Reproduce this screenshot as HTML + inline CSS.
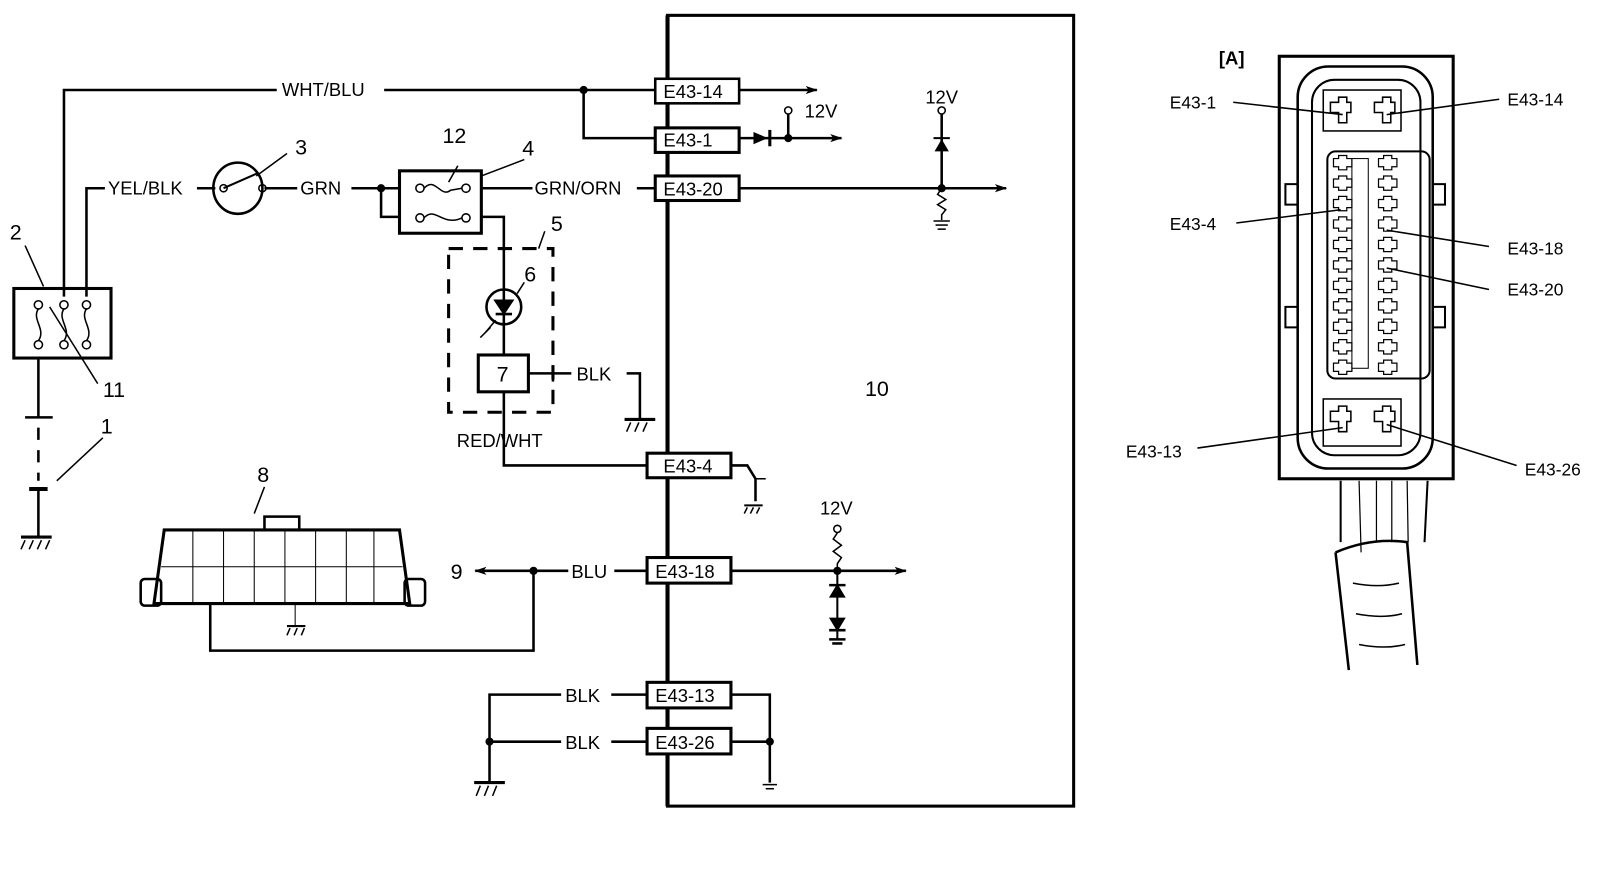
<!DOCTYPE html>
<html><head><meta charset="utf-8"><style>
html,body{margin:0;padding:0;background:#fff;}
svg{display:block;}
text{font-family:"Liberation Sans",sans-serif;fill:#000;}
</style></head><body>
<svg width="1600" height="890" viewBox="0 0 1563 870" xmlns="http://www.w3.org/2000/svg">
<defs>
<marker id="ar" markerWidth="12" markerHeight="8" refX="11" refY="4" orient="auto" markerUnits="userSpaceOnUse"><path d="M0,0 L12,4 L0,8 L3,4Z" fill="#000"/></marker>
</defs>
<g stroke="#000" stroke-width="2.5" fill="none">
<!-- ECU box -->
<rect x="652" y="15" width="397" height="773" stroke-width="3"/>
<line x1="652" y1="15" x2="652" y2="788" stroke-width="4"/>

<!-- WHT/BLU -->
<polyline points="62,290 62,88 270,88"/>
<line x1="375" y1="88" x2="640" y2="88"/>
<polyline points="570,88 570,135 640,135"/>
<!-- connector boxes -->
<rect x="640" y="77" width="82" height="24" fill="#fff"/>
<rect x="640" y="125" width="82" height="24" fill="#fff" stroke-width="3"/>
<rect x="640" y="172" width="82" height="24" fill="#fff" stroke-width="3"/>
<line x1="722" y1="88" x2="798" y2="88" marker-end="url(#ar)"/>
<line x1="722" y1="135" x2="822" y2="135" marker-end="url(#ar)"/>
<line x1="752" y1="127" x2="752" y2="143" stroke-width="3"/>
<line x1="770" y1="135" x2="770" y2="111"/>
<circle cx="770" cy="108" r="3.5" stroke-width="1.5"/>
<line x1="722" y1="184" x2="983" y2="184" marker-end="url(#ar)"/>
<line x1="920" y1="111" x2="920" y2="184"/>
<circle cx="920" cy="108" r="3.5" stroke-width="1.5"/>
<polyline points="920,184 916,190 924,195 916,200 924,205 920,210 920,215" stroke-width="1.5"/>
<line x1="912" y1="216" x2="928" y2="216" stroke-width="1.5"/>
<line x1="914" y1="220" x2="926" y2="220" stroke-width="1.5"/>
<line x1="916" y1="224" x2="924" y2="224" stroke-width="1.5"/>

<!-- YEL/BLK -->
<polyline points="84,290 84,184 102,184"/>
<line x1="192" y1="184" x2="210" y2="184"/>
<ellipse cx="232" cy="184" rx="24" ry="25"/>
<circle cx="218" cy="184" r="3.5" stroke-width="1.5"/>
<circle cx="256" cy="184" r="3.5" stroke-width="1.5"/>
<line x1="218" y1="184" x2="252" y2="169" stroke-width="2"/>
<line x1="250" y1="172" x2="280" y2="150" stroke-width="1.5"/>
<line x1="258" y1="184" x2="290" y2="184"/>
<line x1="343" y1="184" x2="390" y2="184"/>
<polyline points="372,184 372,212 390,212"/>
<rect x="390" y="167" width="80" height="61" stroke-width="3"/>
<circle cx="410" cy="184" r="4" stroke-width="1.5"/><circle cx="455" cy="184" r="4" stroke-width="1.5"/>
<path d="M414,184 C425,172 430,194 440,186 L451,184" stroke-width="1.5"/>
<circle cx="410" cy="213" r="4" stroke-width="1.5"/><circle cx="455" cy="213" r="4" stroke-width="1.5"/>
<path d="M414,213 C425,201 432,222 451,213" stroke-width="1.5"/>
<line x1="447" y1="162" x2="438" y2="178" stroke-width="1.5"/>
<line x1="512" y1="156" x2="470" y2="172" stroke-width="1.5"/>
<line x1="470" y1="184" x2="520" y2="184"/>
<line x1="622" y1="184" x2="640" y2="184"/>
<polyline points="470,212 492,212 492,347"/>
<!-- dashed box 5 -->
<rect x="438" y="243" width="102" height="160" stroke-dasharray="14,10" stroke-width="3"/>
<line x1="532" y1="226" x2="526" y2="243" stroke-width="1.5"/>
<circle cx="492" cy="300" r="17"/>
<path d="M484,294 L500,294 L492,306Z" fill="#000"/>
<line x1="484" y1="307" x2="500" y2="307"/>
<line x1="484" y1="313" x2="474" y2="325" stroke-width="1.5"/>
<line x1="479" y1="320" x2="469" y2="330" stroke-width="1.5"/>
<line x1="505" y1="287" x2="512" y2="276" stroke-width="1.5"/>
<rect x="467" y="347" width="49" height="36" stroke-width="3"/>
<line x1="516" y1="365" x2="558" y2="365"/>
<line x1="540" y1="357" x2="540" y2="373"/>
<polyline points="612,365 625,365 625,410"/>
<line x1="610" y1="410" x2="640" y2="410" stroke-width="3"/>
<polyline points="492,383 492,455 632,455"/>
<rect x="632" y="443" width="82" height="24" stroke-width="3" fill="#fff"/>
<polyline points="714,455 730,455 738,468 738,490"/>
<line x1="738" y1="468" x2="748" y2="468" stroke-width="1.5"/>
<line x1="727" y1="494" x2="745" y2="494" stroke-width="2"/>

<!-- box 2 -->
<rect x="13" y="282" width="95" height="68" stroke-width="3"/>
<circle cx="37" cy="298" r="4" stroke-width="1.5"/><circle cx="37" cy="337" r="4" stroke-width="1.5"/>
<path d="M37,302 C30,312 45,322 37,333" stroke-width="1.5"/>
<circle cx="62" cy="298" r="4" stroke-width="1.5"/><circle cx="62" cy="337" r="4" stroke-width="1.5"/>
<path d="M62,302 C55,312 70,322 62,333" stroke-width="1.5"/>
<circle cx="84" cy="298" r="4" stroke-width="1.5"/><circle cx="84" cy="337" r="4" stroke-width="1.5"/>
<path d="M84,302 C77,312 92,322 84,333" stroke-width="1.5"/>
<line x1="48" y1="300" x2="95" y2="375" stroke-width="1.5"/>
<line x1="24" y1="240" x2="42" y2="280" stroke-width="1.5"/>
<!-- battery -->
<line x1="37" y1="350" x2="37" y2="408"/>
<line x1="24" y1="408" x2="51" y2="408"/>
<line x1="37" y1="418" x2="37" y2="470" stroke-dasharray="12,10"/>
<line x1="28" y1="478" x2="46" y2="478" stroke-width="4"/>
<line x1="37" y1="478" x2="37" y2="525"/>
<line x1="20" y1="525" x2="50" y2="525" stroke-width="3"/>
<line x1="100" y1="428" x2="55" y2="470" stroke-width="1.5"/>

<!-- unit 8 -->
<path d="M160,518 L390,518 L400,590 L150,590 Z" stroke-width="3"/>
<rect x="258" y="505" width="34" height="13"/>
<g stroke-width="1">
<line x1="188" y1="518" x2="188" y2="590"/><line x1="218" y1="518" x2="218" y2="590"/>
<line x1="248" y1="518" x2="248" y2="590"/><line x1="278" y1="518" x2="278" y2="590"/>
<line x1="308" y1="518" x2="308" y2="590"/><line x1="338" y1="518" x2="338" y2="590"/>
<line x1="365" y1="518" x2="365" y2="590"/><line x1="157" y1="554" x2="393" y2="554"/>
</g>
<rect x="137" y="566" width="20" height="26" rx="4"/>
<rect x="395" y="566" width="20" height="26" rx="4"/>
<line x1="248" y1="502" x2="258" y2="476" stroke-width="1.5"/>
<line x1="288" y1="590" x2="288" y2="612" stroke-width="1"/>
<line x1="280" y1="612" x2="298" y2="612" stroke-width="2"/>
<polyline points="205,590 205,636 521,636 521,558"/>
<line x1="555" y1="558" x2="464" y2="558" marker-end="url(#ar)"/>
<line x1="600" y1="558" x2="632" y2="558"/>
<rect x="632" y="545" width="82" height="25" stroke-width="3" fill="#fff"/>
<line x1="714" y1="558" x2="885" y2="558" marker-end="url(#ar)"/>
<circle cx="818" cy="517" r="3.5" stroke-width="1.5"/>
<polyline points="818,521 814,527 822,533 814,539 822,545 818,551 818,558" stroke-width="1.5"/>
<line x1="818" y1="558" x2="818" y2="625" stroke-width="2"/>
<path d="M812,583 L824,583 L818,573Z" fill="#000"/>
<line x1="810" y1="572" x2="826" y2="572"/>
<path d="M812,605 L824,605 L818,615Z" fill="#000"/>
<line x1="810" y1="616" x2="826" y2="616"/>
<line x1="810" y1="625" x2="826" y2="625"/><line x1="813" y1="629" x2="823" y2="629"/>

<!-- E43-13/26 -->
<polyline points="478,765 478,679 548,679"/>
<line x1="597" y1="679" x2="632" y2="679"/>
<line x1="478" y1="725" x2="548" y2="725"/>
<line x1="597" y1="725" x2="632" y2="725"/>
<rect x="632" y="667" width="82" height="25" stroke-width="3" fill="#fff"/>
<rect x="632" y="712" width="82" height="25" stroke-width="3" fill="#fff"/>
<polyline points="714,679 752,679 752,765"/>
<line x1="714" y1="725" x2="752" y2="725"/>
<line x1="463" y1="765" x2="493" y2="765" stroke-width="3"/>
<line x1="745" y1="767" x2="759" y2="767" stroke-width="1.5"/>
<line x1="748" y1="771" x2="756" y2="771" stroke-width="1.5"/>
</g>
<!-- dots -->
<g fill="#000">
<circle cx="570" cy="88" r="4"/><circle cx="372" cy="184" r="4"/><circle cx="770" cy="135" r="4"/>
<circle cx="920" cy="184" r="4"/><circle cx="521" cy="558" r="4"/><circle cx="818" cy="558" r="4"/>
<circle cx="478" cy="725" r="4"/><circle cx="752" cy="725" r="4"/>
<path d="M736,129 L750,135 L736,141Z"/>
<path d="M913,148 L927,148 L920,136Z"/><line x1="912" y1="135" x2="928" y2="135" stroke="#000" stroke-width="2"/>
</g>
<!-- ground hatches -->
<g stroke="#000" stroke-width="1.5">
<line x1="24" y1="528" x2="20" y2="537"/><line x1="32" y1="528" x2="28" y2="537"/><line x1="40" y1="528" x2="36" y2="537"/><line x1="48" y1="528" x2="44" y2="537"/>
<line x1="616" y1="413" x2="612" y2="422"/><line x1="624" y1="413" x2="620" y2="422"/><line x1="632" y1="413" x2="628" y2="422"/>
<line x1="469" y1="768" x2="465" y2="778"/><line x1="477" y1="768" x2="473" y2="778"/><line x1="485" y1="768" x2="481" y2="778"/>
<line x1="283" y1="614" x2="280" y2="621"/><line x1="290" y1="614" x2="287" y2="621"/><line x1="297" y1="614" x2="294" y2="621"/>
<line x1="730" y1="496" x2="727" y2="502"/><line x1="736" y1="496" x2="733" y2="502"/><line x1="742" y1="496" x2="739" y2="502"/>
</g>
<!-- text -->
<g font-size="18">
<text x="275" y="94">WHT/BLU</text>
<text x="105" y="190">YEL/BLK</text>
<text x="293" y="190">GRN</text>
<text x="522" y="190">GRN/ORN</text>
<text x="563" y="372">BLK</text>
<text x="446" y="437">RED/WHT</text>
<text x="558" y="565">BLU</text>
<text x="552" y="686">BLK</text>
<text x="552" y="732">BLK</text>
<text x="648" y="96">E43-14</text>
<text x="648" y="143">E43-1</text>
<text x="648" y="191">E43-20</text>
<text x="648" y="462">E43-4</text>
<text x="640" y="565">E43-18</text>
<text x="640" y="686">E43-13</text>
<text x="640" y="732">E43-26</text>
<text x="786" y="115">12V</text>
<text x="904" y="101">12V</text>
<text x="801" y="503">12V</text>
</g>
<g font-size="21">
<text x="9" y="234">2</text><text x="100" y="388">11</text><text x="98" y="424">1</text>
<text x="288" y="151">3</text><text x="432" y="140">12</text><text x="510" y="152">4</text>
<text x="538" y="226">5</text><text x="512" y="275">6</text><text x="251" y="471">8</text>
<text x="485" y="373">7</text>
<text x="440" y="566">9</text><text x="845" y="387">10</text>
</g>
<!-- right connector A -->
<g stroke="#000" fill="none">
<rect x="1250" y="55" width="170" height="413" stroke-width="3"/>
<rect x="1268" y="65" width="132" height="393" rx="30" stroke-width="2.5"/>
<rect x="1282" y="78" width="106" height="367" rx="22" stroke-width="2"/>
<rect x="1293" y="88" width="76" height="40" stroke-width="1.5"/>
<rect x="1297" y="148" width="100" height="222" rx="8" stroke-width="2"/>
<rect x="1321" y="155" width="16" height="205" stroke-width="1"/>
<rect x="1293" y="390" width="76" height="46" stroke-width="1.5"/>
<path d="M1268,180 L1256,180 L1256,200 L1268,200 M1268,300 L1256,300 L1256,320 L1268,320 M1400,180 L1412,180 L1412,200 L1400,200 M1400,300 L1412,300 L1412,320 L1400,320" stroke-width="2"/>
<g stroke-width="1.5">
<path d="M1300,100 h8 v-5 h8 v5 h4 v10 h-4 v10 h-8 v-10 h-8z"/>
<path d="M1343,100 h8 v-5 h8 v5 h4 v10 h-4 v10 h-8 v-10 h-8z"/>
<path d="M1300,402 h8 v-5 h8 v5 h4 v10 h-4 v10 h-8 v-10 h-8z"/>
<path d="M1343,402 h8 v-5 h8 v5 h4 v10 h-4 v10 h-8 v-10 h-8z"/>
</g>
<g stroke-width="1.2">
<path id="cv" d="M1303,155 h5 v-3 h8 v3 h5 v8 h-5 v3 h-8 v-3 h-5z"/>
</g>
<path d="M1310,470 L1310,530 M1395,470 L1392,530" stroke-width="2"/>
<path d="M1305,540 Q1340,525 1375,530 L1385,650 M1305,540 L1318,655" stroke-width="2.5"/>
<path d="M1328,470 L1330,540 M1345,470 L1345,530 M1360,470 L1360,530 M1375,470 L1376,530" stroke-width="1.2"/>
<path d="M1322,570 q25,5 45,0 M1325,600 q25,5 45,0 M1328,630 q25,5 45,0" stroke-width="1.5"/>
</g>
<g stroke="#000" stroke-width="1.2" fill="none">
<use href="#cv" y="20"/><use href="#cv" y="40"/><use href="#cv" y="60"/><use href="#cv" y="80"/><use href="#cv" y="100"/><use href="#cv" y="120"/><use href="#cv" y="140"/><use href="#cv" y="160"/><use href="#cv" y="180"/><use href="#cv" y="200"/>
<use href="#cv" x="44"/><use href="#cv" x="44" y="20"/><use href="#cv" x="44" y="40"/><use href="#cv" x="44" y="60"/><use href="#cv" x="44" y="80"/><use href="#cv" x="44" y="100"/><use href="#cv" x="44" y="120"/><use href="#cv" x="44" y="140"/><use href="#cv" x="44" y="160"/><use href="#cv" x="44" y="180"/><use href="#cv" x="44" y="200"/>
</g>
<g stroke="#000" stroke-width="1.5">
<line x1="1205" y1="100" x2="1312" y2="112"/>
<line x1="1465" y1="97" x2="1355" y2="112"/>
<line x1="1208" y1="218" x2="1310" y2="205"/>
<line x1="1455" y1="241" x2="1355" y2="225"/>
<line x1="1455" y1="283" x2="1355" y2="262"/>
<line x1="1170" y1="438" x2="1312" y2="418"/>
<line x1="1482" y1="455" x2="1355" y2="415"/>
</g>
<g font-size="17">
<text x="1191" y="63" font-weight="bold" font-size="18">[A]</text>
<text x="1143" y="106">E43-1</text>
<text x="1473" y="103">E43-14</text>
<text x="1143" y="225">E43-4</text>
<text x="1473" y="249">E43-18</text>
<text x="1473" y="289">E43-20</text>
<text x="1100" y="447">E43-13</text>
<text x="1490" y="465">E43-26</text>
</g>
</svg>
</body></html>
